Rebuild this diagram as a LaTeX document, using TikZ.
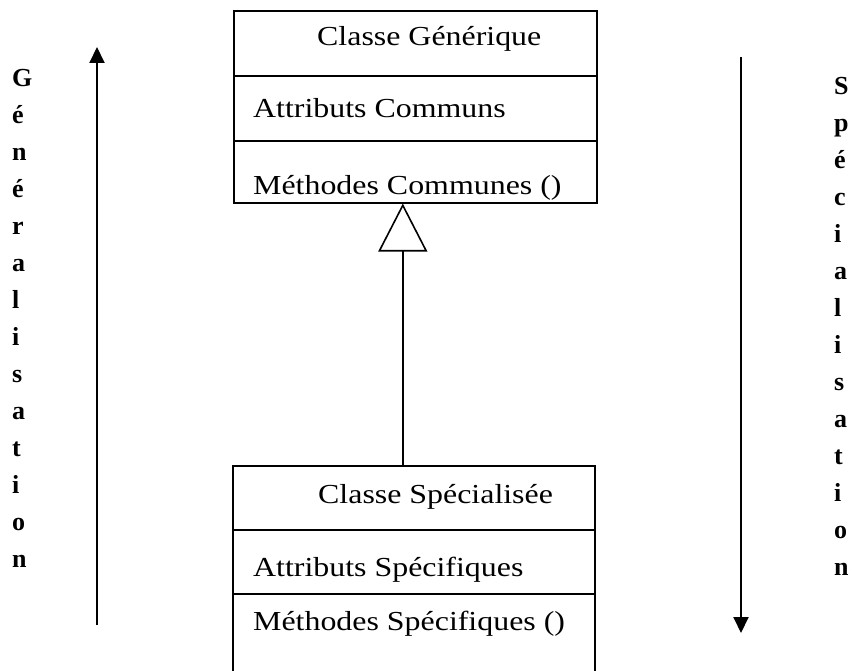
\documentclass[tikz,border=0pt]{standalone}
\usepackage{fontspec}
\setmainfont{Liberation Serif}
\usetikzlibrary{arrows.meta}
% widen the compartment labels slightly
\newcommand{\stretchtxt}[1]{\scalebox{1.16}[1]{#1}}
\begin{document}
\begin{tikzpicture}[x=1pt,y=-1pt,
  compartment/.style={draw, line width=1.6pt, minimum width=363pt, inner sep=0pt, anchor=north west},
  boxtext/.style={font=\fontsize{27.5}{30}\selectfont, inner sep=0pt, anchor=base west},
  sideword/.style={font=\fontsize{26}{37}\selectfont\bfseries, align=left, inner sep=0pt, anchor=base west},
  axis/.style={line width=2pt, -{Triangle[length=16pt,width=15pt]}},
  inherit/.style={line width=1.6pt, -{Triangle[open,length=48pt,width=49pt]}}]
\useasboundingbox (0,0) rectangle (852,671);

% generic class
\node[compartment, minimum height=65pt] (gtitle) at (233,10) {};
\node[compartment, minimum height=65pt] (gattr) at (233,75) {};
\node[compartment, minimum height=62pt] (gmeth) at (233,140) {};
\node[boxtext] (gtitletxt) at (317,46) {\stretchtxt{Classe Générique}};
\node[boxtext] (gattrtxt) at (253,118) {\stretchtxt{Attributs Communs}};
\node[boxtext] (gmethtxt) at (253,195) {\stretchtxt{Méthodes Communes ()}};

% specialised class
\node[compartment, minimum width=362pt, minimum height=64pt] (stitle) at (232,465) {};
\node[compartment, minimum width=362pt, minimum height=64pt] (sattr) at (232,529) {};
\node[compartment, minimum width=362pt, minimum height=79pt] (smeth) at (232,593) {};
\node[boxtext] (stitletxt) at (318,503) {\stretchtxt{Classe Spécialisée}};
\node[boxtext] (sattrtxt) at (253,576) {\stretchtxt{Attributs Spécifiques}};
\node[boxtext] (smethtxt) at (253,630) {\stretchtxt{Méthodes Spécifiques ()}};

% inheritance link
\draw[inherit] ([xshift=-11pt]stitle.north) -- ([xshift=-12.5pt]gmeth.south);

% direction axes
\coordinate (genlow) at (97,625);
\coordinate (genhigh) at (97,47);
\coordinate (spechigh) at (741,57);
\coordinate (speclow) at (741,633);
\draw[axis] (genlow) -- (genhigh);
\draw[axis] (spechigh) -- (speclow);

% vertical words, anchored on the baseline of their last letter
\node[sideword] (genword) at (12,567) {G\\é\\n\\é\\r\\a\\l\\i\\s\\a\\t\\i\\o\\n};
\node[sideword] (specword) at (834,575) {S\\p\\é\\c\\i\\a\\l\\i\\s\\a\\t\\i\\o\\n};
\end{tikzpicture}
\end{document}
